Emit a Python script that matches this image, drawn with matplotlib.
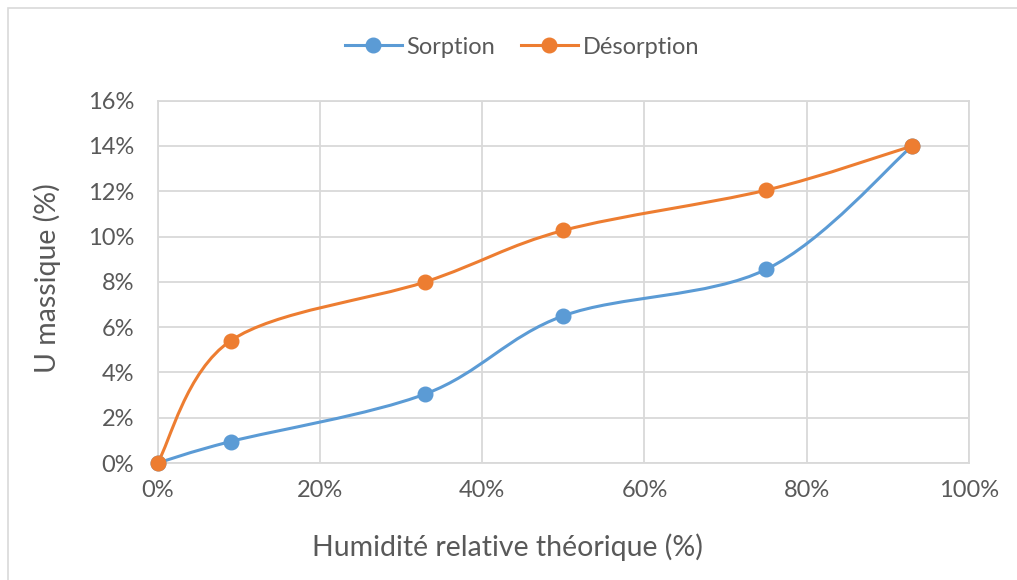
import matplotlib
matplotlib.use("Agg")
import matplotlib.pyplot as plt
from matplotlib.path import Path
from matplotlib.patches import PathPatch, Rectangle
from matplotlib.lines import Line2D
from matplotlib.ticker import PercentFormatter

plt.rcParams['font.family'] = ['Lato', 'DejaVu Sans']

humidite = [0, 9, 33, 50, 75, 93]
sorption = [0, 0.95, 3.05, 6.5, 8.55, 14.0]
desorption = [0, 5.4, 8.0, 10.27, 12.05, 14.0]

blue = '#5B9BD5'
orange = '#ED7D31'
grey_txt = '#595959'
grid_col = '#d9d9d9'


def smooth_path(xs, ys):
    # Excel-like smoothed line: cubic Bezier segments, tangents from neighbours
    pts = list(zip(xs, ys))
    verts = [pts[0]]
    codes = [Path.MOVETO]
    n = len(pts)
    for i in range(n - 1):
        p0 = pts[max(i - 1, 0)]
        p1 = pts[i]
        p2 = pts[i + 1]
        p3 = pts[min(i + 2, n - 1)]
        c1 = (p1[0] + (p2[0] - p0[0]) / 6, p1[1] + (p2[1] - p0[1]) / 6)
        c2 = (p2[0] - (p3[0] - p1[0]) / 6, p2[1] - (p3[1] - p1[1]) / 6)
        verts += [c1, c2, p2]
        codes += [Path.CURVE4] * 3
    return Path(verts, codes)


fig = plt.figure(figsize=(10.17, 5.8), dpi=100)
fig.patches.append(Rectangle((8 / 1017, -0.1), 1.2, 1 - 8 / 580 + 0.1,
                             transform=fig.transFigure, fill=False,
                             edgecolor=grid_col, linewidth=1.2))
ax = fig.add_axes([0.155, 0.2017, 0.7978, 0.6247])

for ys, col in [(sorption, blue), (desorption, orange)]:
    ax.add_patch(PathPatch(smooth_path(humidite, ys), facecolor='none',
                           edgecolor=col, linewidth=2.2, zorder=3))
    ax.plot(humidite, ys, linestyle='none', marker='o', markersize=10.5,
            color=col, zorder=4, clip_on=False)

ax.set_xlim(0, 100)
ax.set_ylim(0, 16)
ax.set_xticks(range(0, 101, 20))
ax.set_yticks(range(0, 17, 2))
ax.xaxis.set_major_formatter(PercentFormatter(decimals=0))
ax.yaxis.set_major_formatter(PercentFormatter(decimals=0))
ax.grid(True, color=grid_col, linewidth=1.3)
ax.set_axisbelow(True)
for s in ax.spines.values():
    s.set_color(grid_col)
    s.set_linewidth(1.3)
ax.tick_params(length=0, labelsize=17, colors=grey_txt)
ax.tick_params(axis='y', pad=17)
ax.tick_params(axis='x', pad=12)

fig.text(507 / 1017, 1 - 547 / 580, 'Humidité relative théorique (%)',
         fontsize=20.5, color=grey_txt, ha='center', va='center')
fig.text(47 / 1017, 1 - 278 / 580, 'U massique (%)', rotation=90,
         fontsize=20.5, color=grey_txt, ha='center', va='center')

handles = [Line2D([], [], color=blue, marker='o', markersize=10.5, linewidth=2.2),
           Line2D([], [], color=orange, marker='o', markersize=10.5, linewidth=2.2)]
fig.legend(handles, ['Sorption', 'Désorption'], loc='center',
           bbox_to_anchor=(522 / 1017, 1 - 47 / 580), ncol=2, frameon=False,
           fontsize=17, labelcolor=grey_txt, handlelength=2.4,
           handletextpad=0.2, columnspacing=1.1)

fig.savefig('out.png', dpi=100, facecolor='white')
